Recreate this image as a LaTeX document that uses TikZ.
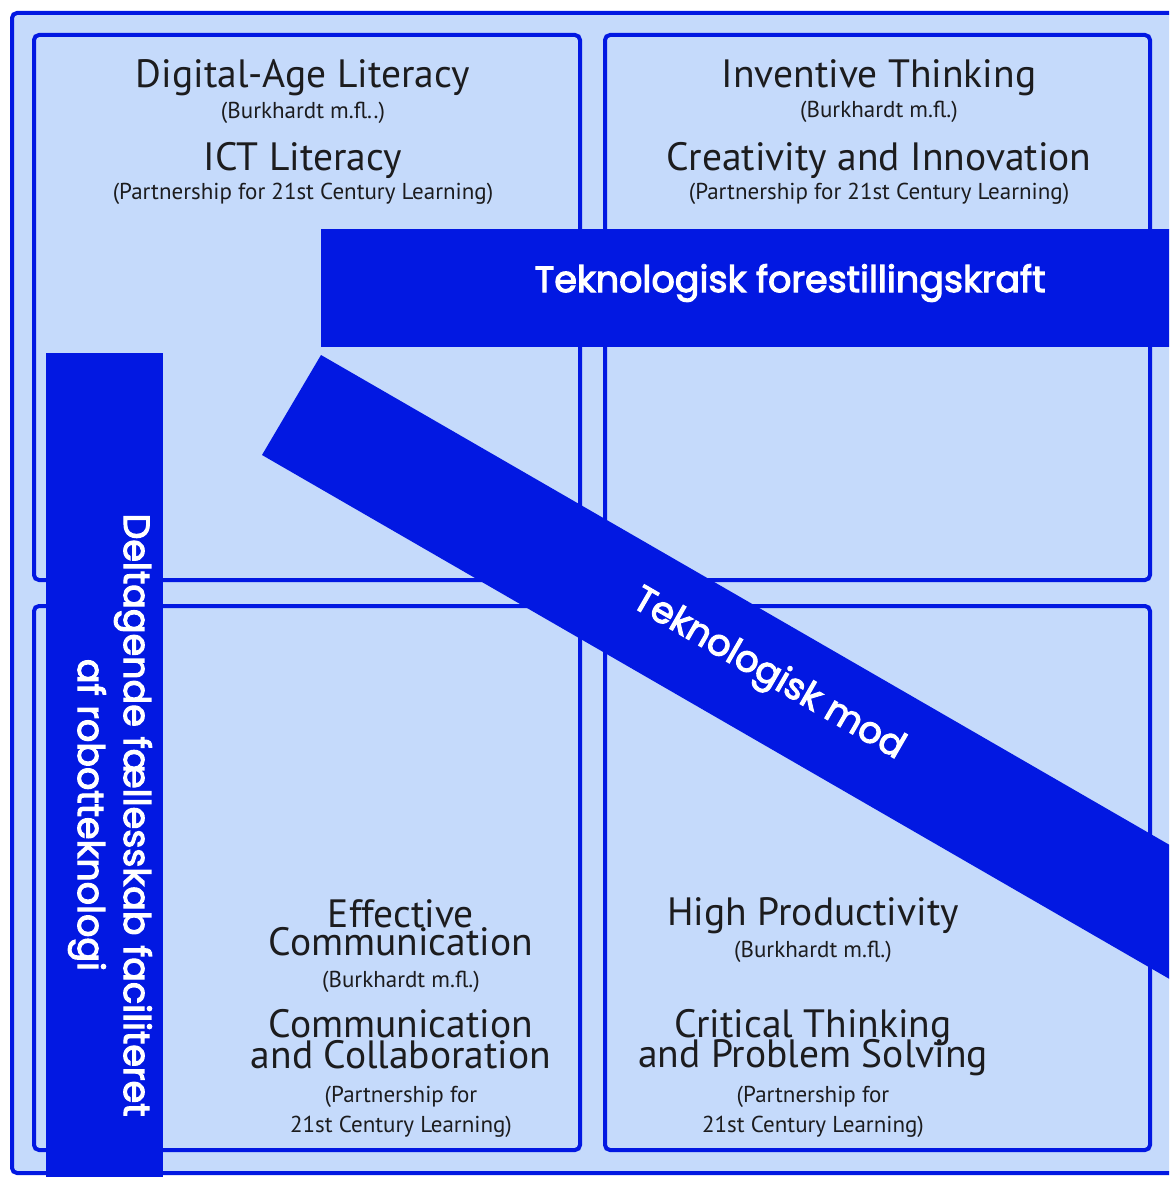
\documentclass[tikz,border=0pt]{standalone}
\usepackage{fontspec}
\setmainfont{PT Sans}
\newfontfamily\bandfont{Poppins}[FakeBold=3]
\definecolor{deepblue}{RGB}{2,24,226}
\definecolor{paleblue}{RGB}{197,218,251}
\definecolor{ink}{RGB}{28,28,30}
\begin{document}
\begin{tikzpicture}[x=1pt,y=-1pt,
  frame/.style={draw=deepblue, line width=4pt, rounded corners=5pt},
  band/.style={fill=deepblue, draw=none},
  head/.style={anchor=base, text=ink, font=\fontsize{39.5}{39.5}\selectfont, inner sep=0pt},
  src/.style={anchor=base, text=ink, font=\fontsize{23}{23}\selectfont, inner sep=0pt},
  bandtext/.style={text=white, font=\bandfont\fontsize{36.5}{46}\selectfont, inner sep=0pt, align=center},
]
\useasboundingbox (0,0) rectangle (1169,1177);
\clip (0,0) rectangle (1169,1177);
\fill[white] (0,0) rectangle (1169,1177);

% outer panel and the four quadrants
\draw[frame, fill=paleblue] (12,13) rectangle (1200,1173);
\draw[frame] (34,35) rectangle (580,580);
\draw[frame] (605,35) rectangle (1150,580);
\draw[frame] (34,606) rectangle (580,1150);
\draw[frame] (605,606) rectangle (1150,1150);

% top left quadrant
\node[head] (dal)  at (303,88)  {Digital-Age Literacy};
\node[src]  (dals) at (303,119) {(Burkhardt m.fl..)};
\node[head] (ict)  at (303,171) {ICT Literacy};
\node[src]  (icts) at (303,200) {(Partnership for 21st Century Learning)};

% top right quadrant
\node[head] (inv)  at (879,88)  {Inventive Thinking};
\node[src]  (invs) at (879,118) {(Burkhardt m.fl.)};
\node[head] (cre)  at (879,171) {Creativity and Innovation};
\node[src]  (cres) at (879,200) {(Partnership for 21st Century Learning)};

% bottom left quadrant
\node[head] (eff1) at (401,927)  {Effective};
\node[head] (eff2) at (401,955)  {Communication};
\node[src]  (effs) at (401,987)  {(Burkhardt m.fl.)};
\node[head] (com1) at (401,1037) {Communication};
\node[head] (com2) at (401,1068) {and Collaboration};
\node[src]  (coms1) at (401,1102) {(Partnership for};
\node[src]  (coms2) at (401,1132) {21st Century Learning)};

% bottom right quadrant
\node[head] (hp)   at (813,925)  {High Productivity};
\node[src]  (hps)  at (813,957)  {(Burkhardt m.fl.)};
\node[head] (crt1) at (813,1037) {Critical Thinking};
\node[head] (crt2) at (813,1067) {and Problem Solving};
\node[src]  (crts1) at (813,1102) {(Partnership for};
\node[src]  (crts2) at (813,1132) {21st Century Learning)};

% the three bands
\fill[band] (321,229) rectangle (1200,347);
\fill[band] (46,353) rectangle (163,1200);
\fill[band] (321,355) -- (1200,862.5) -- (1200,996.6) -- (262,455) -- cycle;

\node[bandtext] (fore) at (790,283) {Teknologisk forestillingskraft};
\node[bandtext, rotate=-30] (mod) at (768,675) {Teknologisk mod};
\node[bandtext, rotate=-90] (delt) at (110,815) {Deltagende fællesskab faciliteret\\af robotteknologi};
\end{tikzpicture}
\end{document}
